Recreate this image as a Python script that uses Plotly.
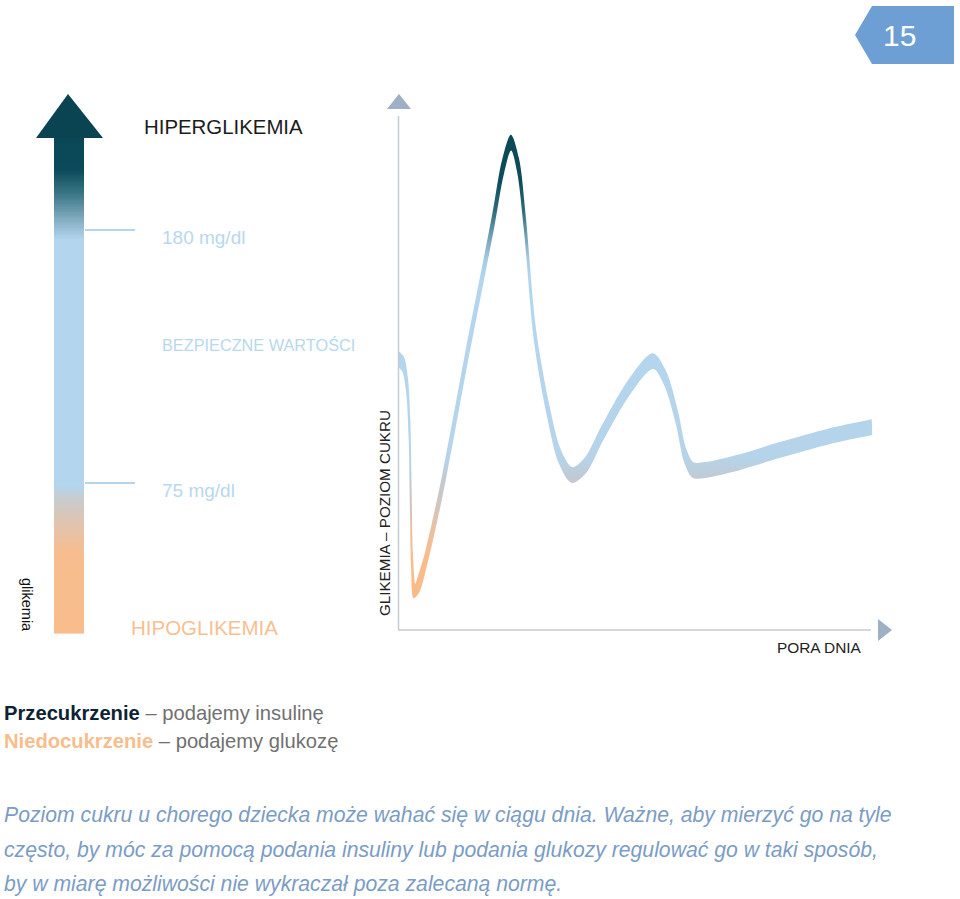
import plotly.graph_objects as go
import numpy as np

# ---------------- data ----------------
hours = [0.0, 0.25, 0.45, 0.575, 0.64, 0.70, 0.825, 1.0, 1.35, 2.1, 2.75, 3.4, 4.75, 5.25, 5.65,
         6.0, 6.35, 6.85, 7.5, 8.1, 8.7, 9.35, 10.25, 11.6, 12.75, 13.35, 13.95, 14.35, 14.75,
         15.35, 17.1, 19.1, 21.6, 23.7]
glucose = [126.5, 124.4, 115.7, 97.0, 67.9, 43.0, 30.2, 32.3, 41.8, 69.2, 97.0, 126.0, 183.3, 206.2, 216.3,
           207.0, 182.1, 136.4, 105.3, 85.8, 78.3, 82.1, 96.2, 115.3, 125.6, 118.6, 102.0, 86.6, 80.4,
           80.4, 83.7, 88.7, 94.5, 98.2]
thresholds = [180, 75]            # mg/dl
threshold_labels = ["180 mg/dl", "75 mg/dl"]
bar_levels = list(np.arange(12.6, 218.6, 0.5))   # glucose levels shown in the left gradient bar

# ---------------- geometry helpers (layout only) ----------------
W, H = 960, 899
def px(x): return x / W
def py(y): return 1 - y / H
K = 105 / 253.0                      # mg/dl per pixel
def val(ypix): return 75 + (483 - ypix) * K
X0, PXH = 398, 20.0                  # x pixel of hour 0, pixels per hour

Y_LO, Y_HI = val(634), val(90)

# band edges: perpendicular + vertical offset around the centre line (style)
PERP, VERT = 0.9, 7.0
cx = [X0 + PXH * h for h in hours]
cy = [483 - (g - 75) / K for g in glucose]
up_h, up_g, lo_h, lo_g = [], [], [], []
n = len(cx)
for i in range(n):
    a, b = max(i - 1, 0), min(i + 1, n - 1)
    tx, ty = cx[b] - cx[a], cy[b] - cy[a]
    L = (tx * tx + ty * ty) ** 0.5
    tx, ty = tx / L, ty / L
    nx, ny = ty, -tx
    ux, uy = cx[i] + nx * PERP, cy[i] + ny * PERP - VERT
    lx, ly = cx[i] - nx * PERP, cy[i] - ny * PERP + VERT
    up_h.append((ux - X0) / PXH); up_g.append(val(uy))
    lo_h.append((lx - X0) / PXH); lo_g.append(val(ly))

def norm(stops):
    return [[(v - Y_LO) / (Y_HI - Y_LO), c] for v, c in stops]

curve_cs = norm([(Y_LO, "#f9bb87"), (44, "#f9bc8a"), (56, "#eac0a3"), (68, "#cdc6c3"),
                 (76, "#c2c9d1"), (86, "#b5d4ea"), (160, "#b3d6ef"), (168, "#a6cae2"),
                 (178, "#6d9db2"), (188, "#2d6c7d"), (200, "#0d4c5b"), (Y_HI, "#0b4654")])
bar_cs = norm([(Y_LO, "#f9bd8b"), (46, "#f7bd8e"), (57, "#e3c3ad"), (68, "#c9cbcc"),
               (74, "#b3d5ee"), (176, "#b3d5ee"), (185, "#7fa9bd"), (195, "#3a7686"),
               (205, "#0b4a5a"), (Y_HI, "#0a4452")])

fig = go.Figure()

# left gradient bar
fig.add_trace(go.Heatmap(
    x=[0], y=bar_levels, z=[[v] for v in bar_levels],
    colorscale=bar_cs, zmin=Y_LO, zmax=Y_HI, showscale=False,
    xaxis="x2", yaxis="y", hoverinfo="skip"))

# glucose curve band
fig.add_trace(go.Scatter(x=lo_h, y=lo_g, mode="lines",
                         line=dict(width=0, shape="spline", smoothing=0.9),
                         showlegend=False, hoverinfo="skip"))
fig.add_trace(go.Scatter(x=up_h, y=up_g, mode="lines",
                         line=dict(width=0, shape="spline", smoothing=0.9),
                         fill="tonexty",
                         fillgradient=dict(type="vertical", colorscale=curve_cs,
                                           start=Y_LO, stop=Y_HI),
                         showlegend=False, hoverinfo="skip"))

shapes = []
# arrow head of the bar
shapes.append(dict(type="path", xref="paper", yref="paper",
                   path=f"M {px(36)},{py(138)} L {px(103)},{py(138)} L {px(68)},{py(94)} Z",
                   fillcolor="#0a4452", line=dict(width=0)))
# threshold ticks
for t in thresholds:
    shapes.append(dict(type="line", xref="paper", yref="y", x0=px(85), x1=px(135), y0=t, y1=t,
                       line=dict(color="#b3d5ee", width=2)))
# chart axes
axis_col = "#c6cad1"
arrow_col = "#9fb0c6"
shapes.append(dict(type="line", xref="paper", yref="paper", x0=px(398.5), x1=px(398.5),
                   y0=py(630), y1=py(116), line=dict(color=axis_col, width=1.5)))
shapes.append(dict(type="line", xref="paper", yref="paper", x0=px(398), x1=px(871),
                   y0=py(630), y1=py(630), line=dict(color=axis_col, width=1.5)))
shapes.append(dict(type="path", xref="paper", yref="paper",
                   path=f"M {px(387)},{py(109)} L {px(411)},{py(109)} L {px(399)},{py(94)} Z",
                   fillcolor=arrow_col, line=dict(width=0)))
shapes.append(dict(type="path", xref="paper", yref="paper",
                   path=f"M {px(878)},{py(619)} L {px(878)},{py(641)} L {px(892)},{py(630)} Z",
                   fillcolor=arrow_col, line=dict(width=0)))
# page badge
shapes.append(dict(type="path", xref="paper", yref="paper",
                   path=f"M {px(872)},{py(6)} L {px(954)},{py(6)} L {px(954)},{py(64)} L {px(872)},{py(64)} L {px(855)},{py(35)} Z",
                   fillcolor="#6d9fd5", line=dict(width=0)))

FONT = "Liberation Sans, Arial, sans-serif"
ann = []
def txt(text, x, y, size, color, xanchor="left", angle=0, family=FONT):
    ann.append(dict(text=text, x=px(x), y=py(y), xref="paper", yref="paper",
                    xanchor=xanchor, yanchor="middle", showarrow=False, textangle=angle,
                    font=dict(family=family, size=size, color=color)))

txt("HIPERGLIKEMIA", 142, 127, 20.4, "#1c1c1c")
txt(threshold_labels[0], 160, 237, 19, "#b8d8ee")
txt("BEZPIECZNE WARTOŚCI", 160, 345, 16.3, "#b8d8ee")
txt(threshold_labels[1], 160, 490, 19, "#b8d8ee")
txt("HIPOGLIKEMIA", 129, 627, 20.5, "#f8c092")
txt("glikemia", 27, 605, 14.5, "#111111", xanchor="center", angle=90)
txt("GLIKEMIA – POZIOM CUKRU", 384, 513, 15.2, "#222222", xanchor="center", angle=-90)
txt("PORA DNIA", 864, 647, 15.4, "#222222", xanchor="right")
txt("15", 899, 36, 30, "#ffffff", xanchor="center")
txt("<b><span style='color:#0d2233'>Przecukrzenie</span></b> – podajemy insulinę", 2, 713, 20.2, "#707070")
txt("<b><span style='color:#f7bd8c'>Niedocukrzenie</span></b> – podajemy glukozę", 2, 741, 20.2, "#707070")

para = ["Poziom cukru u chorego dziecka może wahać się w ciągu dnia. Ważne, aby mierzyć go na tyle",
        "często, by móc za pomocą podania insuliny lub podania glukozy regulować go w taki sposób,",
        "by w miarę możliwości nie wykraczał poza zalecaną normę."]
for line, yy in zip(para, [815, 850, 884]):
    ann.append(dict(text=f"<i>{line}</i>", x=px(2), y=py(yy), xref="paper", yref="paper",
                    xanchor="left", yanchor="middle", showarrow=False,
                    font=dict(family=FONT, size=21.2, color="#7b9cc4")))

fig.update_layout(
    width=W, height=H, margin=dict(l=0, r=0, t=0, b=0),
    paper_bgcolor="white", plot_bgcolor="rgba(0,0,0,0)",
    showlegend=False,
    xaxis=dict(domain=[px(398), px(878)], range=[0, 24], visible=False, anchor="y", fixedrange=True),
    yaxis=dict(domain=[py(634), py(90)], range=[Y_LO, Y_HI], visible=False, anchor="x", fixedrange=True),
    xaxis2=dict(domain=[px(54), px(84)], range=[-0.5, 0.5], visible=False, anchor="y", fixedrange=True),
    shapes=shapes, annotations=ann,
)
fig.write_html("out.html", config={"displayModeBar": False},
               post_script="document.body.style.margin='0px';document.body.style.overflow='hidden';")
